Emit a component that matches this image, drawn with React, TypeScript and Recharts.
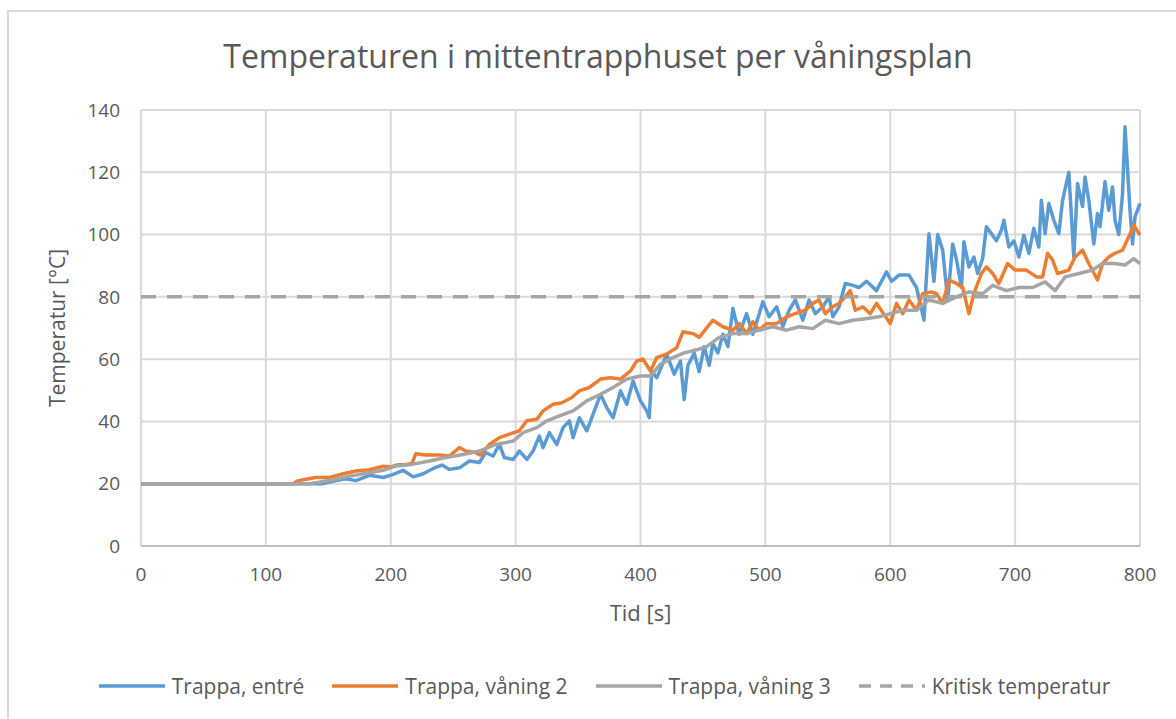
import React from 'react';
import { LineChart, Line, XAxis, YAxis, CartesianGrid } from 'recharts';

const entreTime = [0, 145, 156, 164, 172, 183, 194, 202, 210, 218, 226, 234, 241, 247, 255, 263, 271, 276, 282, 287, 291, 298, 303, 309, 314, 319, 322, 327, 333, 338, 343, 346, 351, 357, 362, 368, 373, 378, 384, 389, 394, 400, 405, 407, 409, 413, 421, 427, 432, 435, 438, 443, 447, 451, 455, 458, 462, 466, 470, 474, 479, 485, 490, 498, 503, 509, 514, 519, 524, 530, 535, 540, 546, 551, 554, 559, 564, 570, 575, 581, 589, 597, 601, 607, 615, 621, 627, 631, 635, 638, 642, 646, 650, 653, 657, 659, 663, 667, 670, 674, 677, 681, 685, 689, 691, 695, 699, 703, 707, 711, 715, 719, 721, 724, 727, 731, 735, 738, 743, 747, 750, 754, 756, 759, 763, 766, 768, 772, 775, 778, 780, 783, 786, 788, 792, 794, 796, 800];
const entreTemp = [20, 20, 21, 21.6, 21, 22.7, 22, 23, 24.3, 22.2, 23.2, 24.9, 26, 24.6, 25.1, 27.3, 26.8, 30, 28.9, 32.6, 28.4, 27.8, 30.5, 27.8, 30.5, 35.3, 31.6, 36.4, 32.6, 38, 40.2, 34.8, 41.2, 37, 42.3, 48.7, 44.4, 41.2, 49.8, 45.5, 53, 46.6, 43.4, 41.2, 56.2, 54, 61.6, 55.2, 59.4, 47, 58, 62, 56, 64, 58, 65, 62, 68, 64, 76.3, 68, 74.6, 68, 78.4, 73.6, 76.8, 70.4, 75.7, 79, 72.5, 79, 74.6, 76.8, 80, 73.6, 76.8, 84.3, 83.7, 83, 85, 82, 88, 85, 87, 87, 83, 72.5, 100.3, 85, 100, 95, 79, 97, 92, 83, 97.7, 89.6, 92.8, 87.5, 92.3, 102.5, 100.3, 98, 101.4, 104.6, 96, 98, 92.8, 99.8, 94, 102, 96, 111, 100.3, 110, 104.6, 100.3, 111, 120, 92.8, 116.4, 109, 118.5, 111, 97, 106.8, 102.5, 117, 107.8, 115.3, 104.6, 100, 113, 134.6, 107.8, 97, 105.7, 110];

const vaning2Time = [0, 122, 125, 130, 140, 151, 162, 172, 183, 194, 200, 205, 212, 217, 220, 228, 239, 247, 255, 260, 268, 272, 279, 287, 295, 303, 309, 317, 322, 330, 337, 345, 351, 359, 368, 376, 384, 392, 397, 402, 408, 413, 421, 429, 434, 442, 447, 458, 466, 474, 479, 485, 490, 495, 501, 509, 517, 524, 532, 538, 543, 548, 554, 559, 564, 568, 572, 578, 584, 589, 594, 600, 605, 610, 615, 621, 626, 633, 637, 642, 647, 653, 658, 663, 667, 673, 677, 682, 687, 694, 700, 709, 717, 722, 726, 730, 734, 743, 748, 754, 759, 766, 770, 775, 780, 786, 791, 795, 800];
const vaning2Temp = [20, 20, 20.8, 21.3, 22, 22, 23.2, 24.1, 24.5, 25.6, 25.4, 26, 26.2, 26.5, 29.6, 29.2, 29.2, 28.9, 31.6, 30.5, 30, 29.2, 32.6, 34.8, 35.9, 37, 40.2, 40.7, 43.4, 45.5, 46, 47.7, 49.8, 50.9, 53.6, 54, 53.6, 56.2, 59.4, 60, 56.2, 60.5, 61.6, 63.7, 68.8, 68.2, 67, 72.5, 70.4, 69.3, 71.4, 68.2, 72, 69.3, 71.4, 71.4, 73.6, 74.6, 75.7, 77.9, 79, 74.6, 76.8, 77.9, 80, 82, 75.7, 76.8, 74.6, 77.9, 75, 71.4, 77.9, 74.6, 79, 75.7, 81, 81.6, 81, 77.9, 85.4, 84.3, 83, 74.6, 81, 87.5, 89.6, 87.5, 84.3, 90.7, 88.6, 88.6, 86.4, 86.4, 94, 91.8, 87.5, 88.6, 92.8, 95, 90.7, 85.4, 90.7, 92.8, 94, 95, 99.3, 103, 99.8];

const vaning3Time = [0, 135, 151, 164, 178, 194, 204, 217, 231, 244, 258, 271, 284, 298, 306, 317, 325, 335, 346, 357, 368, 378, 389, 400, 408, 416, 426, 435, 445, 453, 463, 474, 485, 495, 506, 517, 527, 538, 548, 559, 570, 580, 591, 600, 610, 621, 631, 642, 653, 663, 674, 682, 693, 703, 714, 724, 732, 740, 751, 762, 770, 780, 788, 795, 800];
const vaning3Temp = [20, 20, 21, 22.2, 23.2, 24.3, 25.7, 26.2, 27.3, 28.4, 29.4, 30.5, 32.6, 33.7, 36.4, 38, 40.2, 41.8, 43.4, 46.6, 48.7, 50.9, 53.6, 54.6, 54.6, 58.4, 60.5, 62, 63, 64, 67, 68.2, 68.2, 69.3, 70.4, 69.3, 70.4, 69.8, 72.5, 71.4, 72.5, 73, 73.6, 74.6, 75.7, 75.7, 79, 77.9, 80, 81.6, 81, 83.7, 82, 83, 83, 84.8, 82, 86.4, 87.5, 88.6, 90.7, 90.7, 90.2, 92.3, 90.7];

const kritiskTime = [0, 800];
const kritiskTemp = [80, 80];

const xTicks = [0, 100, 200, 300, 400, 500, 600, 700, 800];
const yTicks = [0, 20, 40, 60, 80, 100, 120, 140];

const toPoints = (time: number[], temp: number[]) => time.map((t, i) => ({ t, v: temp[i] }));

const series = [
  { name: 'Trappa, entré', data: toPoints(entreTime, entreTemp), color: '#5B9BD5', dash: undefined },
  { name: 'Trappa, våning 2', data: toPoints(vaning2Time, vaning2Temp), color: '#ED7D31', dash: undefined },
  { name: 'Trappa, våning 3', data: toPoints(vaning3Time, vaning3Temp), color: '#A5A5A5', dash: undefined },
  { name: 'Kritisk temperatur', data: toPoints(kritiskTime, kritiskTemp), color: '#A5A5A5', dash: '15 11' }
];

const FONT = '"Open Sans", sans-serif';
const TEXT = '#595959';

function LegendRow() {
  return <div style={{ position: 'absolute', left: 0, top: 672, width: 1208, display: 'flex', justifyContent: 'center', gap: 27, fontFamily: FONT, fontSize: 21, color: TEXT }}>
      {series.map(s => <div key={s.name} style={{ display: 'flex', alignItems: 'center' }}>
          <svg width={68} height={6} style={{ marginRight: 6 }}>
            <line x1={1} y1={3} x2={67} y2={3} stroke={s.color} strokeWidth={3.5} strokeDasharray={s.dash ? '12 9' : undefined} />
          </svg>
          <span>{s.name}</span>
        </div>)}
    </div>;
}

export default function App() {
  return <div style={{ position: 'absolute', left: 0, top: 0, width: 1176, height: 719, background: '#fff', overflow: 'hidden' }}>
      <div style={{ position: 'absolute', left: 7, top: 10, width: 1200, height: 740, borderLeft: '2px solid #d9d9d9', borderTop: '2px solid #d9d9d9' }} />
      <div style={{ position: 'absolute', left: 0, top: 34, width: 1196, textAlign: 'center', fontFamily: FONT, fontSize: 32, color: TEXT }}>
        Temperaturen i mittentrapphuset per våningsplan
      </div>
      <div style={{ position: 'absolute', left: 0, top: 0 }}>
        <LineChart width={1176} height={719} margin={{ top: 110, right: 36, bottom: 98, left: 0 }}>
          <CartesianGrid stroke="#d9d9d9" strokeWidth={2} />
          <XAxis dataKey="t" type="number" domain={[0, 800]} ticks={xTicks} height={75} tickSize={0} tickMargin={22} stroke="#bfbfbf" strokeWidth={2} tick={{ fill: TEXT, fontSize: 19, fontFamily: FONT }} allowDuplicatedCategory={false} label={{ value: 'Tid [s]', position: 'insideBottom', offset: 0, fill: TEXT, fontSize: 22, fontFamily: FONT }} />
          <YAxis type="number" domain={[0, 140]} ticks={yTicks} width={141} tickSize={0} tickMargin={21} axisLine={false} tick={{ fill: TEXT, fontSize: 19, fontFamily: FONT }} label={{ value: 'Temperatur [°C]', angle: -90, position: 'insideLeft', offset: 58, fill: TEXT, fontSize: 21, fontFamily: FONT, style: { textAnchor: 'middle' } }} />
          {series.map(s => <Line key={s.name} data={s.data} dataKey="v" name={s.name} type="linear" stroke={s.color} strokeWidth={3.5} strokeDasharray={s.dash} strokeLinejoin="round" dot={false} activeDot={false} isAnimationActive={false} />)}
        </LineChart>
      </div>
      <LegendRow />
    </div>;
}
